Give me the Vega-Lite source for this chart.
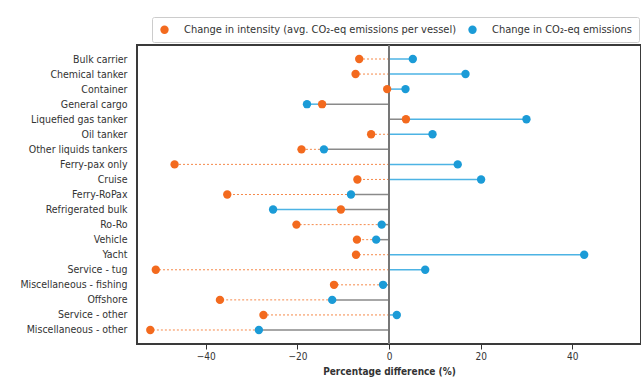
{
  "$schema": "https://vega.github.io/schema/vega-lite/v6.json",
  "width": 504,
  "height": 299,
  "autosize": {"type": "none"},
  "padding": {"left": 137, "top": 45, "right": 0, "bottom": 37},
  "background": "white",
  "config": {
    "view": {"stroke": "#3a3a3a", "strokeWidth": 2},
    "font": "DejaVu Sans Condensed",
    "axis": {"grid": false}
  },
  "data": {
    "values": [
      {"ship": "Bulk carrier", "intensity": -6.5, "emissions": 5.2},
      {"ship": "Chemical tanker", "intensity": -7.3, "emissions": 16.7},
      {"ship": "Container", "intensity": -0.4, "emissions": 3.6},
      {"ship": "General cargo", "intensity": -14.6, "emissions": -17.9},
      {"ship": "Liquefied gas tanker", "intensity": 3.7, "emissions": 30.0},
      {"ship": "Oil tanker", "intensity": -3.9, "emissions": 9.5},
      {"ship": "Other liquids tankers", "intensity": -19.1, "emissions": -14.2},
      {"ship": "Ferry-pax only", "intensity": -46.8, "emissions": 15.0},
      {"ship": "Cruise", "intensity": -6.9, "emissions": 20.1},
      {"ship": "Ferry-RoPax", "intensity": -35.3, "emissions": -8.3},
      {"ship": "Refrigerated bulk", "intensity": -10.5, "emissions": -25.3},
      {"ship": "Ro-Ro", "intensity": -20.2, "emissions": -1.6},
      {"ship": "Vehicle", "intensity": -7.0, "emissions": -2.8},
      {"ship": "Yacht", "intensity": -7.2, "emissions": 42.6},
      {"ship": "Service - tug", "intensity": -50.9, "emissions": 7.9},
      {"ship": "Miscellaneous - fishing", "intensity": -12.0, "emissions": -1.3},
      {"ship": "Offshore", "intensity": -36.9, "emissions": -12.4},
      {"ship": "Service - other", "intensity": -27.4, "emissions": 1.7},
      {"ship": "Miscellaneous - other", "intensity": -52.1, "emissions": -28.4}
    ]
  },
  "transform": [
    {"calculate": "datum.intensity * datum.emissions > 0 ? (abs(datum.intensity) < abs(datum.emissions) ? datum.intensity : datum.emissions) : 0", "as": "g"},
    {"calculate": "0", "as": "zero"}
  ],
  "layer": [
    {
      "mark": {"type": "rule", "color": "#8a8a8a", "strokeWidth": 1.5},
      "encoding": {
        "y": {"field": "ship", "type": "nominal", "sort": null, "scale": {"type": "point", "padding": 0.93},
              "axis": {"title": null, "ticks": false, "domain": false, "labelPadding": 10, "labelFontSize": 10.5, "labelColor": "#333"}},
        "x": {"field": "zero", "type": "quantitative", "scale": {"domain": [-55, 55], "nice": false},
              "axis": {"title": "Percentage difference (%)", "titleFontWeight": "bold", "titleFontSize": 10, "titleColor": "#333", "values": [-40, -20, 0, 20, 40], "domain": false, "tickColor": "#333", "labelColor": "#333", "labelFontSize": 10, "titlePadding": 5}},
        "x2": {"field": "g"}
      }
    },
    {
      "mark": {"type": "rule", "color": "#F5894A", "strokeWidth": 1, "strokeDash": [2, 2]},
      "encoding": {
        "y": {"field": "ship", "type": "nominal", "sort": null},
        "x": {"field": "g", "type": "quantitative"},
        "x2": {"field": "intensity"}
      }
    },
    {
      "mark": {"type": "rule", "color": "#4DB3E4", "strokeWidth": 1.5},
      "encoding": {
        "y": {"field": "ship", "type": "nominal", "sort": null},
        "x": {"field": "g", "type": "quantitative"},
        "x2": {"field": "emissions"}
      }
    },
    {
      "mark": {"type": "rule", "color": "#777", "strokeWidth": 1.2},
      "encoding": {"x": {"datum": 0, "type": "quantitative"}}
    },
    {
      "transform": [{"fold": ["intensity", "emissions"], "as": ["series", "value"]}],
      "mark": {"type": "point", "filled": true, "shape": "circle", "size": 70, "opacity": 1},
      "encoding": {
        "y": {"field": "ship", "type": "nominal", "sort": null},
        "x": {"field": "value", "type": "quantitative"},
        "color": {
          "field": "series", "type": "nominal",
          "scale": {"domain": ["intensity", "emissions"], "range": ["#F36A1E", "#1B9BD7"]},
          "legend": {
            "orient": "none", "legendX": 15, "legendY": -28, "direction": "horizontal", "title": null,
            "symbolType": "circle", "symbolSize": 70, "labelFontSize": 11, "labelColor": "#333", "labelLimit": 400,
            "labelOffset": 14, "columnPadding": 10, "padding": 7, "strokeColor": "#cccccc", "cornerRadius": 2, "fillColor": "white",
            "labelExpr": "datum.value == 'intensity' ? 'Change in intensity (avg. CO₂-eq emissions per vessel)' : 'Change in CO₂-eq emissions'"
          }
        }
      }
    }
  ]
}
